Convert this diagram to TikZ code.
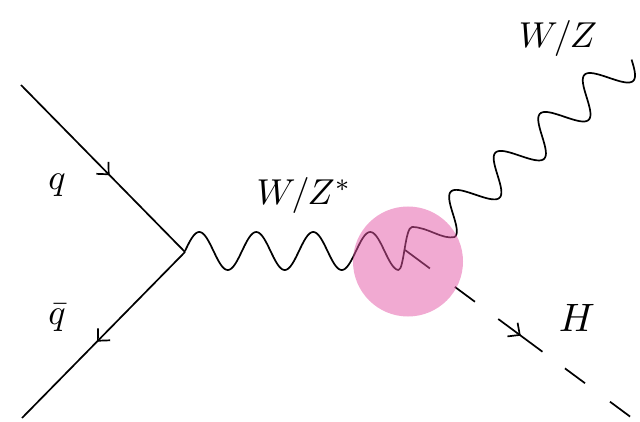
\documentclass[tikz,border=0pt]{standalone}
\usetikzlibrary{decorations.markings,arrows.meta}
\definecolor{blobpink}{RGB}{228,86,165}
\begin{document}
\begin{tikzpicture}[x=1pt,y=-1pt,
  tipstyle/.tip={Straight Barb[length=9pt,width=17pt]},
  fermion/.style={line width=1.7pt, postaction={decorate},
    decoration={markings, mark=at position 0.54 with {\arrow{tipstyle}}}},
  boson/.style={line width=1.7pt, line join=round},
  scalar/.style={line width=1.7pt,
    dash pattern=on 31pt off 31pt on 25pt off 29pt on 55pt off 28pt on 25pt off 31pt on 25pt off 20pt,
    postaction={decorate},
    decoration={markings, mark=at position 0.51 with {\arrow{tipstyle}}}},
  lbl/.style={inner sep=0pt, scale=3.6},
  blob/.style={fill=blobpink, fill opacity=0.5}
]
\useasboundingbox (0,0) rectangle (640,422);
% vertices and ends
\coordinate (qin) at (21,85);
\coordinate (qbarout) at (22,418);
\coordinate (v1) at (185,252);
\coordinate (v2) at (405,250);
\coordinate (join) at (455,237);
\coordinate (hend) at (632,418);
% quark lines
\draw[fermion] (qin) -- (v1);
\draw[fermion] (v1) -- (qbarout);
% W/Z* propagator
\draw[boson] plot[domain=185:398.5, samples=160, smooth] (\x,{251-19*sin(6.31579*(\x-185))})
  .. controls (404,270) and (405,227) .. (412,227)
  .. controls (428,227) and (442,240) .. (join);
% outgoing W/Z  (p = x-y along the axis, q = x+y across it)
\draw[boson] plot[domain=218:572, samples=200, smooth]
  ({(\x + 665.7 + 0.067*(\x-218) + 26*cos(4.3114*(\x-218)))/2},
   {(665.7 + 0.067*(\x-218) + 26*cos(4.3114*(\x-218)) - \x)/2});
% Higgs
\draw[scalar] (v2) -- (hend);
% blob
\fill[blob] (408,261.5) circle[radius=55];
% labels
\node[lbl] (lq) at (57,185) {$q$};
\node[lbl] (lqbar) at (57,318) {$\bar{q}$};
\node[lbl] (lwzs) at (304,196) {$W/Z^{*}$};
\node[lbl] (lwz) at (558,39) {$W/Z$};
\node[lbl, scale=1.1] (lh) at (577,318) {$H$};
\end{tikzpicture}
\end{document}
